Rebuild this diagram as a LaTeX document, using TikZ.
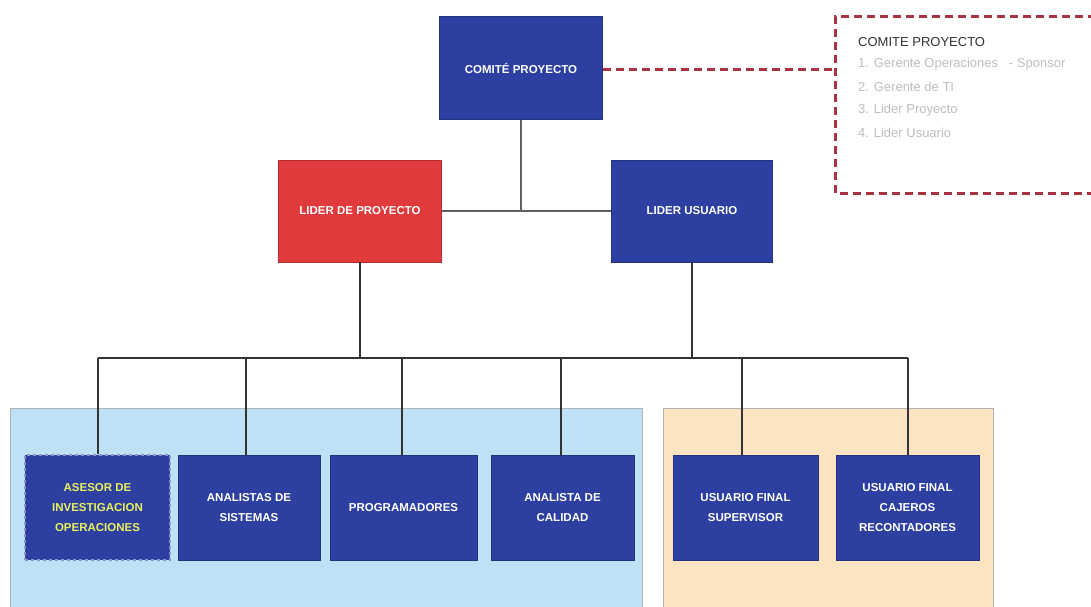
\documentclass[tikz,border=0pt]{standalone}
\usepackage{fontspec}
\setmainfont{Liberation Sans}
\definecolor{boxblue}{HTML}{2D3FA0}
\definecolor{boxred}{HTML}{E03A3C}
\definecolor{panelblue}{HTML}{BFE1F6}
\definecolor{panelorange}{HTML}{FCE4C2}
\definecolor{dashred}{HTML}{A83342}
\definecolor{asesoryellow}{HTML}{E9F25E}
\begin{document}
\begin{tikzpicture}[x=1pt,y=-1pt,
  orgbox/.style={draw=boxblue!80!black, line width=0.6pt, fill=boxblue, text=white,
    font=\bfseries\fontsize{11.5}{20}\selectfont, align=center, inner sep=0pt},
  panel/.style={draw=gray!60, line width=1pt},
  topline/.style={draw=gray!75!black, line width=1.8pt},
  botline/.style={draw=black!80, line width=1.8pt},
  reddash/.style={draw=dashred, line width=3pt, dash pattern=on 8pt off 5pt},
  note/.style={anchor=west, inner sep=0pt, font=\fontsize{13}{15}\selectfont, text=gray!50}
]
\useasboundingbox (0,0) rectangle (1091,607);
\fill[white] (0,0) rectangle (1091,607);
% panels
\draw[panel, fill=panelblue] (10,408) rectangle (642,612);
\draw[panel, fill=panelorange] (663,408) rectangle (993,612);
% top nodes
\node[orgbox, minimum width=163, minimum height=103] (comite) at (521,68) {COMITÉ PROYECTO};
\node[orgbox, fill=boxred, draw=boxred!80!black, minimum width=163, minimum height=102] (lproy) at (360,211) {LIDER DE PROYECTO};
\node[orgbox, minimum width=161, minimum height=102] (lusu) at (692,211) {LIDER USUARIO};
% bottom nodes
\node[orgbox, minimum width=145, minimum height=105, text=asesoryellow, draw=boxblue!55!white, dashed, line width=2pt] (asesor) at (97.5,507.5) {ASESOR DE\\INVESTIGACION\\OPERACIONES};
\node[orgbox, minimum width=142, minimum height=105] (anas) at (249,507.5) {ANALISTAS DE\\SISTEMAS};
\node[orgbox, minimum width=147, minimum height=105] (prog) at (403.5,507.5) {PROGRAMADORES};
\node[orgbox, minimum width=143, minimum height=105] (calid) at (562.5,507.5) {ANALISTA DE\\CALIDAD};
\node[orgbox, minimum width=145, minimum height=105] (sup) at (745.5,507.5) {USUARIO FINAL\\SUPERVISOR};
\node[orgbox, minimum width=143, minimum height=105] (caj) at (907.5,507.5) {USUARIO FINAL\\CAJEROS\\RECONTADORES};
% dashed note box
\draw[reddash] (1096,17) -- (835,17) -- (835,193) -- (1096,193);
\coordinate (noteleft) at (835,70);
\node[note, text=gray!40!black] (nt) at (858,42) {COMITE PROYECTO};
\node[note] (n1) at (858,64) {1. Gerente Operaciones \ \ - Sponsor};
\node[note] (n2) at (858,87) {2. Gerente de TI};
\node[note] (n3) at (858,110) {3. Lider Proyecto};
\node[note] (n4) at (858,133) {4. Lider Usuario};
\draw[reddash] (comite.east |- noteleft) -- (noteleft);
% top connectors
\coordinate (mid) at (521,211);
\draw[topline] (comite.south) -- (mid);
\draw[topline] (lproy.east) -- (lusu.west);
% bottom bus
\coordinate (busL) at (98,358);
\coordinate (busR) at (908,358);
\draw[botline] (lproy.south) -- (lproy.south |- busL);
\draw[botline] (lusu.south) -- (lusu.south |- busL);
\draw[botline] (busL) -- (busR);
\draw[botline] (busL) -- (busL |- asesor.north);
\draw[botline] (246,358) -- (anas.north -| 246,0);
\draw[botline] (402,358) -- (prog.north -| 402,0);
\draw[botline] (561,358) -- (calid.north -| 561,0);
\draw[botline] (742,358) -- (sup.north -| 742,0);
\draw[botline] (busR) -- (busR |- caj.north);
\end{tikzpicture}
\end{document}
